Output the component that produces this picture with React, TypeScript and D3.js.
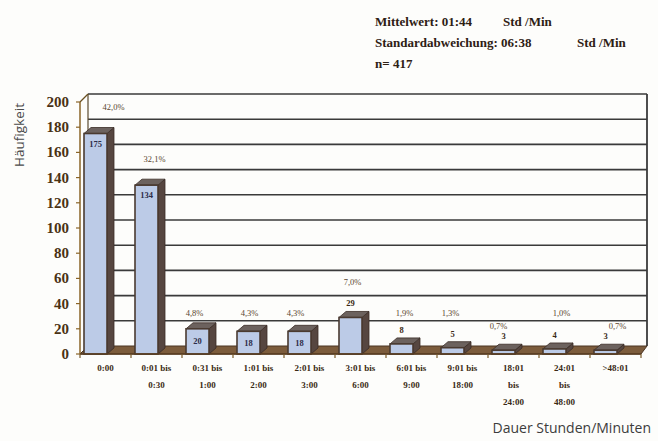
import React from "react";
import * as d3 from "d3";

// ---- data ----
const categories: string[][] = [
  ["0:00"],
  ["0:01 bis", "0:30"],
  ["0:31 bis", "1:00"],
  ["1:01 bis", "2:00"],
  ["2:01 bis", "3:00"],
  ["3:01 bis", "6:00"],
  ["6:01 bis", "9:00"],
  ["9:01 bis", "18:00"],
  ["18:01", "bis", "24:00"],
  ["24:01", "bis", "48:00"],
  [">48:01"],
];
const counts = [175, 134, 20, 18, 18, 29, 8, 5, 3, 4, 3];
const percentLabels = ["42,0%", "32,1%", "4,8%", "4,3%", "4,3%", "7,0%", "1,9%", "1,3%", "0,7%", "1,0%", "0,7%"];
const yTicks = [0, 20, 40, 60, 80, 100, 120, 140, 160, 180, 200];
const statLines = [
  { label: "Mittelwert: 01:44", unit: "Std /Min" },
  { label: "Standardabweichung: 06:38", unit: "Std /Min" },
  { label: "n= 417", unit: "" },
];
const yTitle = "Häufigkeit";
const xTitle = "Dauer Stunden/Minuten";

// ---- layout (hand placement of labels) ----
const pctLevel = [196, 155, 32.5, 32.5, 32.5, 57, 32.5, 32.5, 22, 32.5, 22];
const pctNudge = [18, 8, -3, 1, -4, 2, 3, -2, -5, 7, 12];
const valueInside = [true, true, true, true, true, false, false, false, false, false, false];

const W = 658, H = 441;
const X0 = 80, X1 = 641, DX = 8, DY = 8;
const BDX = 7, BDY = 6;
const serif = "'Liberation Serif', 'Times New Roman', serif";
const sans = "'Open Sans', 'Noto Sans', sans-serif";

export default function App() {
  const x = d3.scaleBand<number>().domain(counts.map((_, i) => i)).range([X0, X1]).paddingInner(0);
  const y = d3.scaleLinear().domain([0, 200]).range([354, 102]);
  const bw = x.bandwidth();
  const barW = 23;
  const y0 = y(0);

  return (
    <div style={{ position: "fixed", left: 0, top: 0 }}>
      <svg width={W} height={H} style={{ display: "block", background: "#fdfdfb" }}>
        {/* stats header */}
        {statLines.map((s, i) => (
          <g key={i} fontFamily={serif} fontWeight="bold" fontSize={13} fill="#2e2014">
            <text x={375} y={26 + i * 21}>{s.label}</text>
            {s.unit && <text x={i === 0 ? 503 : 577} y={26 + i * 21}>{s.unit}</text>}
          </g>
        ))}

        {/* back wall gridlines */}
        {yTicks.filter((t) => t > 0).map((t) => (
          <line key={t} x1={X0 + DX} x2={X1 + 6} y1={y(t) - DY} y2={y(t) - DY} stroke="#3a3a3a" strokeWidth={1.6} />
        ))}
        <line x1={X0 + DX} x2={X0 + DX} y1={y(200) - DY} y2={y0 - DY} stroke="#5a4a30" strokeWidth={1.2} />
        <line x1={X1 + 6} x2={X1 + 6} y1={y(200) - DY} y2={y0 - DY} stroke="#3a3a3a" strokeWidth={1.8} />
        <line x1={X0} x2={X0 + DX} y1={y(200)} y2={y(200) - DY} stroke="#6a5020" strokeWidth={1.2} />

        {/* floor */}
        <polygon
          points={`${X0},${y0} ${X0 + DX},${y0 - DY} ${X1 + 6},${y0 - DY} ${X1},${y0}`}
          fill="#7c5c3c"
          stroke="#4a3422"
          strokeWidth={1}
        />

        {/* left axis */}
        <line x1={X0} x2={X0} y1={y(200)} y2={y0} stroke="#8a6428" strokeWidth={1.5} />
        {yTicks.map((t) => (
          <g key={t}>
            <line x1={X0 - 4} x2={X0} y1={y(t)} y2={y(t)} stroke="#8a6428" strokeWidth={1.2} />
            <text x={69} y={y(t) + 5} textAnchor="end" fontFamily={serif} fontWeight="bold" fontSize={15} fill="#4a3214">
              {t}
            </text>
          </g>
        ))}

        {/* bars */}
        {counts.map((v, i) => {
          const fx = (x(i) as number) + 4;
          const top = y(v);
          return (
            <g key={i}>
              <polygon
                points={`${fx + barW},${top} ${fx + barW + BDX},${top - BDY} ${fx + barW + BDX},${y0 - BDY} ${fx + barW},${y0}`}
                fill="#564640"
                stroke="#3a2c26"
                strokeWidth={0.8}
              />
              <polygon
                points={`${fx},${top} ${fx + BDX},${top - BDY} ${fx + barW + BDX},${top - BDY} ${fx + barW},${top}`}
                fill="#6c625e"
                stroke="#3a2c26"
                strokeWidth={0.8}
              />
              <rect x={fx} y={top} width={barW} height={y0 - top} fill="#bccbe7" stroke="#4a3a30" strokeWidth={1.6} />
            </g>
          );
        })}

        {/* front floor edge & x ticks */}
        <line x1={X0} x2={X1} y1={y0} y2={y0} stroke="#5a3e22" strokeWidth={1.5} />
        {d3.range(counts.length + 1).map((i) => {
          const tx = X0 + i * bw;
          return <line key={i} x1={tx} x2={tx} y1={y0} y2={y0 + 4} stroke="#7a5a2a" strokeWidth={1.2} />;
        })}

        {/* value labels */}
        {counts.map((v, i) => {
          const cx = (x(i) as number) + 4 + barW / 2;
          const inside = valueInside[i];
          let ty: number;
          if (inside) ty = v >= 100 ? y(v) + 13 : (y(v) + y0) / 2 + 3;
          else ty = y(v) - BDY - 5;
          return (
            <text key={i} x={cx} y={ty} textAnchor="middle" fontFamily={serif} fontWeight="bold" fontSize={8.5}
              fill={inside ? "#2c2c48" : "#3a2a14"}>
              {v}
            </text>
          );
        })}

        {/* percentage labels */}
        {percentLabels.map((p, i) => (
          <text key={i} x={(x(i) as number) + 4 + barW / 2 + pctNudge[i]} y={y(pctLevel[i]) + 3} textAnchor="middle"
            fontFamily={serif} fontSize={8.5} fill="#5a4630">
            {p}
          </text>
        ))}

        {/* category labels */}
        {categories.map((lines, i) => (
          <text key={i} fontFamily={serif} fontWeight="bold" fontSize={9} fill="#3a2a14" textAnchor="middle">
            {lines.map((l, j) => (
              <tspan key={j} x={(x(i) as number) + bw / 2} y={371 + j * 17}>{l}</tspan>
            ))}
          </text>
        ))}

        {/* axis titles */}
        <text transform="translate(24,135) rotate(-90)" textAnchor="middle" fontFamily={sans} fontSize={13.5} fill="#4a4a4a">
          {yTitle}
        </text>
        <text x={651} y={433} textAnchor="end" fontFamily={sans} fontSize={14} fill="#3c3c3c">
          {xTitle}
        </text>
      </svg>
    </div>
  );
}
